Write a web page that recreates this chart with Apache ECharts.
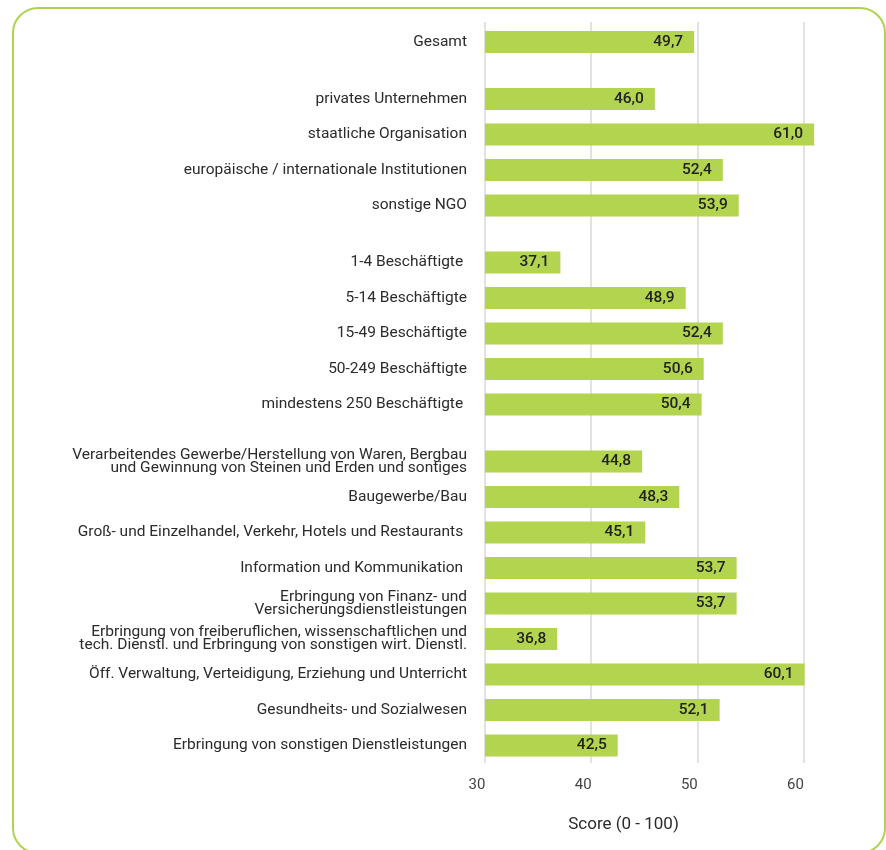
<!DOCTYPE html>
<html>
<head>
<meta charset="utf-8">
<script src="https://cdn.jsdelivr.net/npm/echarts@6/dist/echarts.min.js"></script>
<style>
  html, body { margin: 0; padding: 0; background: #fff; overflow: hidden; }
  #frame {
    position: absolute; left: 12px; top: 7px; width: 874px; height: 847px;
    border: 2.8px solid #aed350; border-radius: 26px; box-sizing: border-box;
  }
  #chart { position: absolute; left: 0; top: 0; width: 886px; height: 850px; }
</style>
</head>
<body>
<div id="frame"></div>
<div id="chart"></div>
<script>
// Overall score
const overallLabels = ['Gesamt'];
const overallValues = [49.7];

// By type of organisation
const orgLabels = [
  'privates Unternehmen',
  'staatliche Organisation',
  'europäische / internationale Institutionen',
  'sonstige NGO'
];
const orgValues = [46.0, 61.0, 52.4, 53.9];

// By company size
const sizeLabels = [
  '1-4 Beschäftigte ',
  '5-14 Beschäftigte',
  '15-49 Beschäftigte',
  '50-249 Beschäftigte',
  'mindestens 250 Beschäftigte '
];
const sizeValues = [37.1, 48.9, 52.4, 50.6, 50.4];

// By sector
const sectorLabels = [
  'Verarbeitendes Gewerbe/Herstellung von Waren, Bergbau\nund Gewinnung von Steinen und Erden und sontiges',
  'Baugewerbe/Bau',
  'Groß- und Einzelhandel, Verkehr, Hotels und Restaurants ',
  'Information und Kommunikation ',
  'Erbringung von Finanz- und\nVersicherungsdienstleistungen',
  'Erbringung von freiberuflichen, wissenschaftlichen und\ntech. Dienstl. und Erbringung von sonstigen wirt. Dienstl.',
  'Öff. Verwaltung, Verteidigung, Erziehung und Unterricht',
  'Gesundheits- und Sozialwesen',
  'Erbringung von sonstigen Dienstleistungen'
];
const sectorValues = [44.8, 48.3, 45.1, 53.7, 53.7, 36.8, 60.1, 52.1, 42.5];

const xTicks = { min: 30, max: 64, interval: 10 };
const axisTitle = 'Score (0 - 100)';

const groups = [
  { labels: overallLabels, values: overallValues },
  { labels: orgLabels, values: orgValues },
  { labels: sizeLabels, values: sizeValues },
  { labels: sectorLabels, values: sectorValues }
];

// Layout of the stacked bar blocks
const FONT = 'Roboto';
const GRID_LEFT = 485, GRID_RIGHT = 40;
const SLOT = 35.5, GAP = 21.5, FIRST_TOP = 24.25;
const BAR_COLOR = '#b2d44f';

const fmt = v => v.toFixed(1).replace('.', ',');

const grids = [{ left: GRID_LEFT, right: GRID_RIGHT, top: 22, bottom: 87 }];
const xAxes = [{
  type: 'value', gridIndex: 0,
  min: xTicks.min, max: xTicks.max, interval: xTicks.interval,
  axisLine: { show: false }, axisTick: { show: false },
  splitLine: { show: true, showMaxLine: false, lineStyle: { color: '#d9d9d9', width: 1.5 } },
  axisLabel: {
    showMaxLabel: false, fontFamily: FONT, fontSize: 15, color: '#444',
    margin: 15, padding: [0, 16, 0, 0]
  },
  name: axisTitle, nameLocation: 'middle', nameGap: 53,
  nameTextStyle: { fontFamily: FONT, fontSize: 17, color: '#2b2b2b', padding: [0, 84, 0, 0] }
}];
const yAxes = [{ type: 'value', gridIndex: 0, show: false }];
const series = [];

let blockTop = FIRST_TOP;
groups.forEach((g, i) => {
  const idx = i + 1;
  const h = g.labels.length * SLOT;
  grids.push({ left: GRID_LEFT, right: GRID_RIGHT, top: blockTop, height: h });
  blockTop += h + GAP;
  xAxes.push({
    type: 'value', gridIndex: idx,
    min: xTicks.min, max: xTicks.max, show: false,
    splitLine: { show: false }
  });
  yAxes.push({
    type: 'category', gridIndex: idx, inverse: true, data: g.labels,
    axisLine: { show: false }, axisTick: { show: false },
    axisLabel: {
      fontFamily: FONT, fontSize: 15.5, color: '#2b2b2b',
      margin: 18, lineHeight: 13, align: 'right'
    }
  });
  series.push({
    type: 'bar', xAxisIndex: idx, yAxisIndex: idx,
    data: g.values, barWidth: 22,
    itemStyle: { color: BAR_COLOR },
    label: {
      show: true, position: 'insideRight', distance: 11,
      fontFamily: FONT, fontSize: 15.5, fontWeight: 500, color: '#222',
      formatter: p => fmt(p.value)
    },
    silent: true
  });
});

const chart = echarts.init(document.getElementById('chart'), null, { renderer: 'canvas' });
chart.setOption({
  animation: false,
  backgroundColor: 'transparent',
  grid: grids,
  xAxis: xAxes,
  yAxis: yAxes,
  series: series
});
</script>
</body>
</html>
